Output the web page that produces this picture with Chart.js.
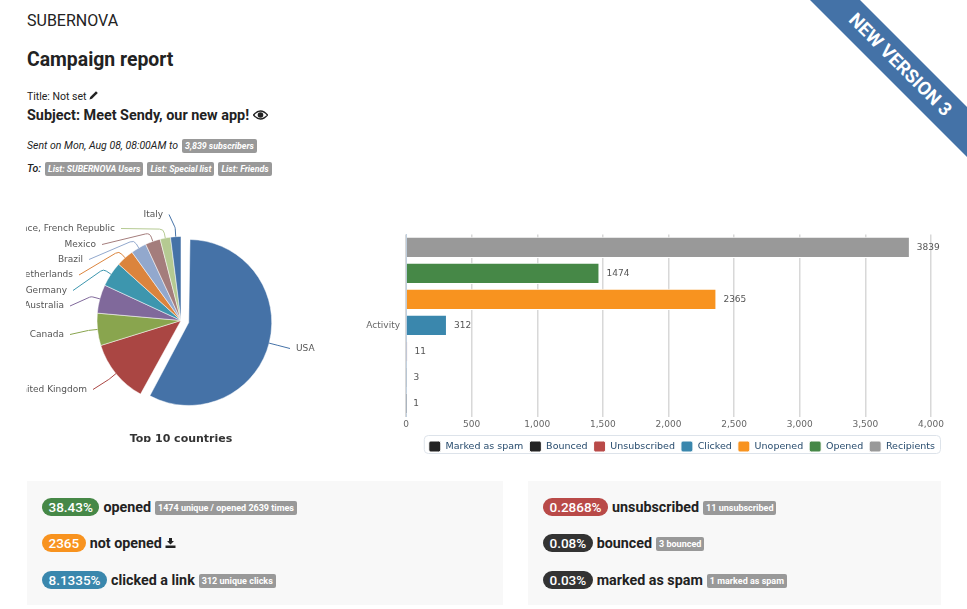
<!DOCTYPE html>
<html>
<head>
<meta charset="utf-8">
<title>Campaign report</title>
<script src="https://cdn.jsdelivr.net/npm/chart.js@4"></script>
<style>
  html, body { margin: 0; padding: 0; background: #fff; }
  body { width: 967px; height: 609px; position: relative; overflow: hidden; font-family: Roboto, sans-serif; color: #222; }
  .abs { position: absolute; white-space: nowrap; line-height: 1; }
  .tag { display: inline-block; background: #999; color: #fff; font-weight: 700; font-size: 8.8px; line-height: 14px; height: 14px; padding: 0 3px; border-radius: 2px; margin-left: 4px; }
  .ribbon { position: absolute; left: 810px; top: 0; width: 157px; height: 157px; background: #4472a7; clip-path: polygon(0 0, 50px 0, 157px 107px, 157px 157px); }
  .ribbonText { position: absolute; left: 900px; top: 65px; transform: translate(-50%, -50%) rotate(45deg); color: #fff; font-weight: 700; font-size: 18.5px; white-space: nowrap; line-height: 1; }
  .panel { position: absolute; top: 481px; height: 124px; background: #f8f8f8; }
  .row { position: absolute; left: 15px; display: flex; align-items: center; height: 18px; font-weight: 700; font-size: 14.3px; white-space: nowrap; }
  .pill { display: inline-block; color: #fff; font-weight: 500; font-size: 13.5px; line-height: 18px; height: 18px; padding: 0 6.5px; border-radius: 9px; margin-right: 4px; }
  .row .tag { margin-left: 4px; margin-top: 2px; font-size: 9px; }
  canvas { position: absolute; }
</style>
</head>
<body>
<div class="abs" style="left:27px;top:13px;font-size:16px;">SUBERNOVA</div>
<div class="abs" style="left:27px;top:50px;font-size:19.4px;font-weight:700;">Campaign report</div>
<div class="abs" style="left:27px;top:90px;font-size:10.5px;">Title: Not set <svg width="10" height="10" viewBox="0 0 10 10"><path d="M0.5 9.5 L1.2 7 L7 1.2 L8.8 3 L3 8.8 Z" fill="#222"/></svg></div>
<div class="abs" style="left:27px;top:109px;font-size:14.4px;font-weight:700;">Subject: Meet Sendy, our new app! <svg width="15" height="10" viewBox="0 0 15 10"><path d="M0.5 5 Q7.5 -3 14.5 5 Q7.5 13 0.5 5 Z" fill="none" stroke="#222" stroke-width="1.3"/><circle cx="7.5" cy="5" r="2.8" fill="#222"/></svg></div>
<div class="abs" style="left:27px;top:139px;font-size:10.5px;font-style:italic;display:flex;align-items:center;height:14px;">Sent on Mon, Aug 08, 08:00AM to<span class="tag">3,839 subscribers</span></div>
<div class="abs" style="left:27px;top:162px;font-size:10.5px;font-style:italic;font-weight:500;display:flex;align-items:center;height:14px;">To:<span class="tag">List: SUBERNOVA Users</span><span class="tag">List: Special list</span><span class="tag">List: Friends</span></div>

<div class="ribbon"></div>
<div class="ribbonText">NEW VERSION 3</div>

<canvas id="pie" width="310" height="242" style="left:26px;top:200px;"></canvas>
<canvas id="bars" width="610" height="239" style="left:360px;top:223px;"></canvas>

<div class="panel" style="left:27px;width:476px;">
  <div class="row" style="top:17px;"><span class="pill" style="background:#468847">38.43%</span>opened<span class="tag">1474 unique / opened 2639 times</span></div>
  <div class="row" style="top:53px;"><span class="pill" style="background:#f8931f">2365</span>not opened&nbsp;<svg width="11" height="10" viewBox="0 0 11 10"><path d="M4 0 H7 V3 H9 L5.5 6.5 L2 3 H4 Z M0.5 7.5 H10.5 V10 H0.5 Z" fill="#222"/></svg></div>
  <div class="row" style="top:90px;"><span class="pill" style="background:#3a87ad">8.1335%</span>clicked a link<span class="tag">312 unique clicks</span></div>
</div>
<div class="panel" style="left:528px;width:413px;">
  <div class="row" style="top:17px;"><span class="pill" style="background:#b94a48">0.2868%</span>unsubscribed<span class="tag">11 unsubscribed</span></div>
  <div class="row" style="top:53px;"><span class="pill" style="background:#333">0.08%</span>bounced<span class="tag">3 bounced</span></div>
  <div class="row" style="top:90px;"><span class="pill" style="background:#333">0.03%</span>marked as spam<span class="tag">1 marked as spam</span></div>
</div>

<script>
const countries = ['USA', 'United Kingdom', 'Canada', 'Australia', 'Germany', 'Netherlands', 'Brazil', 'Mexico', 'France, French Republic', 'Italy'];
const countryShares = [58, 12.2, 6.2, 5.5, 4.8, 3.4, 3, 2.9, 2, 2];
const countryColors = ['#4572A7', '#AA4643', '#89A54E', '#80699B', '#3D96AE', '#DB843D', '#92A8CD', '#A47D7C', '#B5CA92', '#4572A7'];

const barCategories = ['Activity'];
const activityNames = ['Recipients', 'Opened', 'Unopened', 'Clicked', 'Unsubscribed', 'Bounced', 'Marked as spam'];
const activityValues = [3839, 1474, 2365, 312, 11, 3, 1];
const activityColors = ['#999999', '#468847', '#f8931f', '#3a87ad', '#b94a48', '#222222', '#222222'];
const axisMax = 4000;
const axisStep = 500;

// where each country label sits, measured from the pie centre
const labelSpots = [[115, 28], [-94, 69], [-117, 14], [-117, -14.5], [-114, -30], [-108, -45.5], [-98, -61], [-85, -76], [-66, -92], [-18, -106]];
const labelFont = '9px "DejaVu Sans"';

const pieLabels = {
  id: 'pieLabels',
  afterUpdate(chart) {
    // chart.js also grows an offset arc by the same amount it moves it, take that back
    chart.getDatasetMeta(0).data.forEach(arc => {
      arc.outerRadius -= arc.options.offset / 4 + (arc.options.offset ? 1 : 0);
    });
  },
  afterDatasetsDraw(chart) {
    const ctx = chart.ctx;
    const arcs = chart.getDatasetMeta(0).data;
    ctx.save();
    ctx.font = labelFont;
    ctx.textBaseline = 'middle';
    arcs.forEach((arc, i) => {
      const mid = (arc.startAngle + arc.endAngle) / 2;
      const reach = arc.outerRadius + arc.options.offset / 2;
      const ex = arc.x + Math.cos(mid) * reach;
      const ey = arc.y + Math.sin(mid) * reach;
      const kx = arc.x + Math.cos(mid) * (reach + 9);
      const ky = arc.y + Math.sin(mid) * (reach + 9);
      const side = labelSpots[i][0] > 0 ? 1 : -1;
      const lx = arc.x + labelSpots[i][0];
      const ly = arc.y + labelSpots[i][1];

      ctx.fillStyle = '#555';
      ctx.textAlign = side > 0 ? 'left' : 'right';
      ctx.fillText(countries[i], lx, ly);

      // connector runs from the label to a knee just outside the slice, then in to its edge
      ctx.strokeStyle = countryColors[i];
      ctx.lineWidth = 1;
      ctx.beginPath();
      ctx.moveTo(lx - side * 6, ly);
      ctx.arcTo(kx, ky, ex, ey, 5);
      ctx.lineTo(ex, ey);
      ctx.stroke();
    });
    ctx.restore();
  }
};

new Chart(document.getElementById('pie'), {
  type: 'pie',
  plugins: [pieLabels],
  data: {
    labels: countries,
    datasets: [{
      data: countryShares,
      backgroundColor: countryColors,
      borderColor: '#ffffff',
      borderWidth: 0.5,
      offset: countryShares.map((v, i) => i === 0 ? 32 : 0)
    }]
  },
  options: {
    responsive: false,
    animation: false,
    radius: 84,
    layout: { padding: { top: 7 } },
    plugins: {
      legend: { display: false },
      tooltip: { enabled: false },
      title: {
        display: true,
        text: 'Top 10 countries',
        position: 'bottom',
        color: '#333',
        font: { family: '"DejaVu Sans"', size: 11, weight: 'bold', lineHeight: 1 },
        padding: { top: 0, bottom: -3 }
      }
    }
  }
});

const barValues = {
  id: 'barValues',
  afterDatasetsDraw(chart) {
    const ctx = chart.ctx;
    ctx.save();
    ctx.font = labelFont;
    ctx.fillStyle = '#555';
    ctx.textBaseline = 'middle';
    ctx.textAlign = 'left';
    chart.data.datasets.forEach((ds, i) => {
      const bar = chart.getDatasetMeta(i).data[0];
      ctx.fillText(ds.data[0], bar.x + 7, bar.y);
    });
    ctx.restore();
  }
};

const legendFrame = {
  id: 'legendFrame',
  afterLayout(chart) {
    // legend sits a little right of the plot in the reference
    chart.legend.left += 10;
    chart.legend.right += 10;
    chart.legend.adjustHitBoxes();
  },
  beforeDraw(chart) {
    const boxes = chart.legend.legendHitBoxes;
    const left = Math.min(...boxes.map(b => b.left)) - 5;
    const right = Math.max(...boxes.map(b => b.left + b.width)) + 5;
    const ctx = chart.ctx;
    ctx.save();
    ctx.strokeStyle = '#dde3ea';
    ctx.lineWidth = 1;
    ctx.beginPath();
    ctx.roundRect(left + 0.5, chart.legend.top + 0.5, right - left, 18, 4);
    ctx.stroke();
    ctx.restore();
  }
};

new Chart(document.getElementById('bars'), {
  type: 'bar',
  plugins: [barValues, legendFrame],
  data: {
    labels: barCategories,
    datasets: activityNames.map((name, i) => ({
      label: name,
      data: [activityValues[i]],
      backgroundColor: activityColors[i],
      borderColor: '#ffffff',
      borderWidth: 1
    }))
  },
  options: {
    indexAxis: 'y',
    responsive: false,
    animation: false,
    layout: { padding: { top: 6, right: 39 } },
    datasets: { bar: { categoryPercentage: 1, barPercentage: 0.82 } },
    scales: {
      x: {
        min: 0,
        max: axisMax,
        ticks: {
          stepSize: axisStep,
          maxRotation: 0,
          color: '#666',
          padding: 3,
          font: { family: '"DejaVu Sans"', size: 9 },
          callback: v => v.toLocaleString('en-US')
        },
        grid: { color: '#d8d8d8', lineWidth: 1.5, drawTicks: false },
        border: { display: false },
        afterFit(scale) { scale.height = 18.5; }
      },
      y: {
        ticks: { color: '#666', padding: 6, font: { family: '"DejaVu Sans"', size: 9 } },
        grid: { display: false, drawTicks: false },
        border: { color: '#c0d0e0' },
        afterFit(scale) { scale.width = 46; }
      }
    },
    plugins: {
      tooltip: { enabled: false },
      legend: {
        position: 'bottom',
        align: 'end',
        reverse: true,
        labels: {
          boxWidth: 12,
          boxHeight: 11,
          padding: 6,
          color: '#274b6d',
          useBorderRadius: true,
          borderRadius: 2,
          font: { family: '"DejaVu Sans"', size: 9.5 }
        }
      }
    }
  }
});
</script>
</body>
</html>
